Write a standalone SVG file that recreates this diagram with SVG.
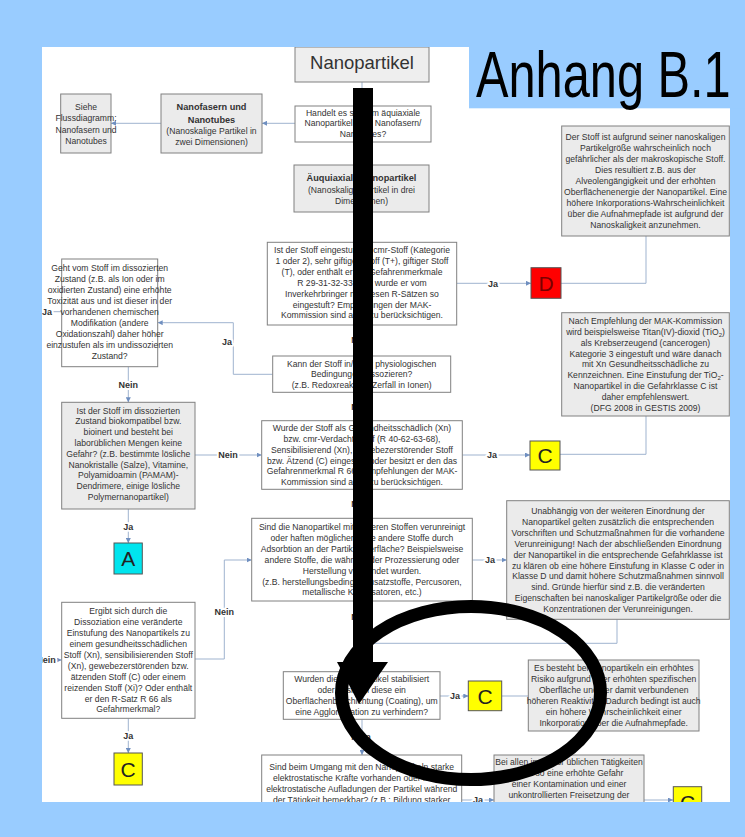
<svg xmlns="http://www.w3.org/2000/svg" width="745" height="837" viewBox="0 0 745 837">
<defs>
<style>
.t{font-family:"Liberation Sans",Arial,sans-serif;font-size:8.6px;fill:#333;text-anchor:middle}
.b{font-weight:bold;font-size:9.2px}
.box{fill:#fff;stroke:#808080;stroke-width:1}
.gbox{fill:#ebebeb;stroke:#808080;stroke-width:1}
.ln{fill:none;stroke:#9fb3cf;stroke-width:1}
.arr{marker-end:url(#ah)}
.lbl{font-family:"Liberation Sans",Arial,sans-serif;font-size:9px;font-weight:bold;fill:#333;text-anchor:middle;paint-order:stroke;stroke:#fff;stroke-width:4px;stroke-linejoin:round}
.big{font-family:"Liberation Sans",Arial,sans-serif;font-size:21px;text-anchor:middle;fill:#222}
</style>
<marker id="ah" viewBox="0 0 6 6" refX="6" refY="3" markerWidth="5" markerHeight="5" markerUnits="userSpaceOnUse" orient="auto">
<path d="M0,0 L6,3 L0,6 z" fill="#6f8fc0"/>
</marker>
<clipPath id="panel"><rect x="42" y="47" width="688" height="755"/></clipPath>
</defs>
<rect x="0" y="0" width="745" height="837" fill="#99ccff"/>
<rect x="42" y="47" width="688" height="755" fill="#fff"/>
<g clip-path="url(#panel)">
<g id="connectors">
<path class="ln arr" d="M362,82 V106"/>
<path class="ln arr" d="M295,123.3 H262"/>
<path class="ln arr" d="M161,123.3 H111"/>
<path class="ln arr" d="M362,142 V165"/>
<path class="ln arr" d="M362,212 V242"/>
<path class="ln arr" d="M456.7,283.3 H531"/>
<path class="ln" d="M646,236 V283.3 H561"/>
<path class="ln arr" d="M362,325 V356"/>
<path class="ln arr" d="M272.7,374.3 H233.3 V322.7 H157.7"/>
<path class="ln" d="M61.7,311.7 H30"/>
<path class="ln arr" d="M128.3,366.7 V402.3"/>
<path class="ln arr" d="M362,392.3 V420.7"/>
<path class="ln arr" d="M195,455 H261.7"/>
<path class="ln arr" d="M462.3,455 H530"/>
<path class="ln" d="M646,416 V454.3 H560"/>
<path class="ln arr" d="M128.3,509 V543"/>
<path class="ln arr" d="M362,489.3 V518.3"/>
<path class="ln arr" d="M472.3,560 H506.7"/>
<path class="ln arr" d="M195,659 H224.3 V560 H251.7"/>
<path class="ln arr" d="M30,660 H61.7"/>
<path class="ln arr" d="M362,601 V671.7"/>
<path class="ln" d="M617,619.3 V643.3 H362"/>
<path class="ln arr" d="M128.3,718.3 V753"/>
<path class="ln arr" d="M440,696 H468.3"/>
<path class="ln" d="M501.7,696 H528.3"/>
<path class="ln arr" d="M362,719.3 V755"/>
<path class="ln arr" d="M461.7,800 H494"/>
<path class="ln arr" d="M644,800 H673"/>
<text class="lbl" x="362" y="156">Ja</text>
<text class="lbl" x="493" y="286.5">Ja</text>
<text class="lbl" x="361" y="343">Nein</text>
<text class="lbl" x="227" y="345">Ja</text>
<text class="lbl" x="47" y="315">Ja</text>
<text class="lbl" x="128.3" y="387.5">Nein</text>
<text class="lbl" x="361" y="410">Nein</text>
<text class="lbl" x="228" y="458.2">Nein</text>
<text class="lbl" x="492" y="458.2">Ja</text>
<text class="lbl" x="128.3" y="530">Ja</text>
<text class="lbl" x="361" y="506.5">Nein</text>
<text class="lbl" x="490" y="563.2">Ja</text>
<text class="lbl" x="224.3" y="615">Nein</text>
<text class="lbl" x="46" y="663.2">Nein</text>
<text class="lbl" x="361" y="620">Nein</text>
<text class="lbl" x="128.3" y="739">Ja</text>
<text class="lbl" x="455" y="699.2">Ja</text>
<text class="lbl" x="361" y="740">Nein</text>
<text class="lbl" x="478" y="803.2">Ja</text>
</g>
<g id="n-nanopartikel">
<rect x="295" y="47" width="134" height="35" fill="#eeeeee" stroke="#808080"/>
<text x="362" y="69" style="font-family:'Liberation Sans',Arial,sans-serif;font-size:18.5px;fill:#333;text-anchor:middle">Nanopartikel</text>
</g>
<g id="n-siehe">
<rect class="gbox" x="60.7" y="94" width="50.3" height="59"/>
<text class="t" x="86" y="110">Siehe</text>
<text class="t" x="86" y="121.3">Flussdiagramm:</text>
<text class="t" x="86" y="132.6">Nanofasern und</text>
<text class="t" x="86" y="143.9">Nanotubes</text>
</g>
<g id="n-nanofasern">
<rect class="gbox" x="161" y="94" width="101" height="59"/>
<text class="t b" x="211.5" y="110">Nanofasern und</text>
<text class="t b" x="211.5" y="122.5">Nanotubes</text>
<text class="t" x="211.5" y="133.5">(Nanoskalige Partikel in</text>
<text class="t" x="211.5" y="144.8">zwei Dimensionen)</text>
</g>
<g id="n-handelt">
<rect class="box" x="295" y="106" width="136" height="36"/>
<text class="t" x="363" y="115.5">Handelt es sich um äquiaxiale</text>
<text class="t" x="363" y="126.4">Nanopartikel oder Nanofasern/</text>
<text class="t" x="363" y="137.3">Nanotubes?</text>
</g>
<g id="n-aequiaxiale">
<rect class="gbox" x="294" y="165" width="135" height="47"/>
<text class="t b" x="361.5" y="180.8">Äuquiaxiale Nanopartikel</text>
<text class="t" x="361.5" y="193">(Nanoskalige Partikel in drei</text>
<text class="t" x="361.5" y="203.9">Dimensionen)</text>
</g>
<g id="n-cmr">
<rect class="box" x="267.3" y="242.3" width="189.4" height="82.7"/>
<text class="t" x="362" y="253">Ist der Stoff eingestuft als cmr-Stoff (Kategorie</text>
<text class="t" x="362" y="263.9">1 oder 2),  sehr giftiger Stoff (T+), giftiger Stoff</text>
<text class="t" x="362" y="274.8">(T), oder enthält er die Gefahrenmerkmale</text>
<text class="t" x="362" y="285.7">R 29-31-32-33 oder wurde er vom</text>
<text class="t" x="362" y="296.6">Inverkehrbringer mit diesen R-Sätzen so</text>
<text class="t" x="362" y="307.5">eingestuft? Empfehlungen der MAK-</text>
<text class="t" x="362" y="318.4">Kommission sind auch zu berücksichtigen.</text>
</g>
<g id="n-d">
<rect x="531" y="267.7" width="30" height="30.6" fill="#ff0000" stroke="#555"/>
<text class="big" x="546" y="290.8" style="fill:#7a0000">D</text>
</g>
<g id="n-derstoff">
<rect class="gbox" x="561.7" y="126" width="167.6" height="110"/>
<text class="t" x="645.5" y="140.4">Der Stoff ist aufgrund seiner nanoskaligen</text>
<text class="t" x="645.5" y="151.3">Partikelgröße wahrscheinlich noch</text>
<text class="t" x="645.5" y="162.2">gefährlicher als der makroskopische Stoff.</text>
<text class="t" x="645.5" y="173.1">Dies resultiert z.B. aus der</text>
<text class="t" x="645.5" y="184">Alveolengängigkeit und der erhöhten</text>
<text class="t" x="645.5" y="194.9">Oberflächenenergie der Nanopartikel. Eine</text>
<text class="t" x="645.5" y="205.8">höhere Inkorporations-Wahrscheinlichkeit</text>
<text class="t" x="645.5" y="216.7">über die Aufnahmepfade ist aufgrund der</text>
<text class="t" x="645.5" y="227.6">Nanoskaligkeit anzunehmen.</text>
</g>
<g id="n-geht">
<rect class="box" x="61.7" y="259" width="96" height="107.7"/>
<text class="t" x="109.7" y="271.3">Geht vom Stoff im dissozierten</text>
<text class="t" x="109.7" y="282.2">Zustand (z.B. als Ion oder im</text>
<text class="t" x="109.7" y="293.1">oxidierten Zustand) eine erhöhte</text>
<text class="t" x="109.7" y="304">Toxizität aus und ist dieser in der</text>
<text class="t" x="109.7" y="314.9">vorhandenen chemischen</text>
<text class="t" x="109.7" y="325.8">Modifikation (andere</text>
<text class="t" x="109.7" y="336.7">Oxidationszahl) daher höher</text>
<text class="t" x="109.7" y="347.6">einzustufen als im undissozierten</text>
<text class="t" x="109.7" y="358.5">Zustand?</text>
</g>
<g id="n-kann">
<rect class="box" x="272.7" y="356" width="178" height="36.3"/>
<text class="t" x="361.7" y="366.5">Kann der Stoff in/unter physiologischen</text>
<text class="t" x="361.7" y="377">Bedingungen dissozieren?</text>
<text class="t" x="361.7" y="387.5">(z.B. Redoxreaktion, Zerfall in Ionen)</text>
</g>
<g id="n-nach">
<rect class="gbox" x="561.7" y="312.7" width="167.6" height="103.3"/>
<text class="t" x="645.5" y="323.8">Nach Empfehlung der MAK-Kommission</text>
<text class="t" x="645.5" y="334.7">wird beispielsweise Titan(IV)-dioxid (TiO<tspan dy="2" font-size="6">2</tspan><tspan dy="-2">)</tspan></text>
<text class="t" x="645.5" y="345.6">als Krebserzeugend (cancerogen)</text>
<text class="t" x="645.5" y="356.5">Kategorie 3 eingestuft und wäre danach</text>
<text class="t" x="645.5" y="367.4">mit Xn Gesundheitsschädliche zu</text>
<text class="t" x="645.5" y="378.3">Kennzeichnen. Eine Einstufung der TiO<tspan dy="2" font-size="6">2</tspan><tspan dy="-2">-</tspan></text>
<text class="t" x="645.5" y="389.2">Nanopartikel in die Gefahrklasse C ist</text>
<text class="t" x="645.5" y="400.1">daher empfehlenswert.</text>
<text class="t" x="645.5" y="411">(DFG 2008 in GESTIS 2009)</text>
</g>
<g id="n-biokomp">
<rect class="gbox" x="61.7" y="402.3" width="133.3" height="106.7"/>
<text class="t" x="128.3" y="413.5">Ist der Stoff im dissozierten</text>
<text class="t" x="128.3" y="424.3">Zustand biokompatibel bzw.</text>
<text class="t" x="128.3" y="435.1">bioinert und besteht bei</text>
<text class="t" x="128.3" y="445.9">laborüblichen Mengen keine</text>
<text class="t" x="128.3" y="456.7">Gefahr? (z.B. bestimmte lösliche</text>
<text class="t" x="128.3" y="467.5">Nanokristalle (Salze), Vitamine,</text>
<text class="t" x="128.3" y="478.3">Polyamidoamin (PAMAM)-</text>
<text class="t" x="128.3" y="489.1">Dendrimere, einige lösliche</text>
<text class="t" x="128.3" y="499.9">Polymernanopartikel)</text>
</g>
<g id="n-wurde">
<rect class="box" x="261.7" y="420.7" width="200.6" height="68.6"/>
<text class="t" x="362" y="430.8">Wurde der Stoff als Gesundheitsschädlich (Xn)</text>
<text class="t" x="362" y="441.7">bzw. cmr-Verdachtsstoff (R 40-62-63-68),</text>
<text class="t" x="362" y="452.6">Sensibilisierend (Xn), gewebezerstörender Stoff</text>
<text class="t" x="362" y="463.5">bzw. Ätzend (C) eingestuft oder besitzt er den das</text>
<text class="t" x="362" y="474.4">Gefahrenmerkmal R 66? Empfehlungen der MAK-</text>
<text class="t" x="362" y="485.3">Kommission sind auch zu berücksichtigen.</text>
</g>
<g id="n-c1">
<rect x="530" y="441" width="30" height="29" fill="#ffff00" stroke="#555"/>
<text class="big" x="545" y="463">C</text>
</g>
<g id="n-a">
<rect x="114" y="543" width="28.3" height="31" fill="#00e5ee" stroke="#555"/>
<text class="big" x="128.2" y="566">A</text>
</g>
<g id="n-sind">
<rect class="box" x="251.7" y="518.3" width="220.6" height="82.7"/>
<text class="t" x="362" y="530">Sind die Nanopartikel mit anderen Stoffen verunreinigt</text>
<text class="t" x="362" y="540.9">oder haften möglicherweise andere Stoffe durch</text>
<text class="t" x="362" y="551.8">Adsorbtion an der Partikeloberfläche? Beispielsweise</text>
<text class="t" x="362" y="562.7">andere Stoffe, die während der Prozessierung oder</text>
<text class="t" x="362" y="573.6">Herstellung verwendet wurden.</text>
<text class="t" x="362" y="584.5">(z.B. herstellungsbedingte Zusatzstoffe, Percusoren,</text>
<text class="t" x="362" y="595.4">metallische Katalysatoren, etc.)</text>
</g>
<g id="n-unab">
<rect class="gbox" x="506.7" y="500.7" width="222.6" height="118.6"/>
<text class="t" x="618" y="514">Unabhängig von der weiteren Einordnung der</text>
<text class="t" x="618" y="524.9">Nanopartikel gelten zusätzlich die entsprechenden</text>
<text class="t" x="618" y="535.8">Vorschriften und Schutzmaßnahmen für die vorhandene</text>
<text class="t" x="618" y="546.7">Verunreinigung! Nach der abschließenden Einordnung</text>
<text class="t" x="618" y="557.6">der Nanopartikel in die entsprechende Gefahrklasse ist</text>
<text class="t" x="618" y="568.5">zu klären ob eine höhere Einstufung in Klasse C oder in</text>
<text class="t" x="618" y="579.4">Klasse D und damit höhere Schutzmaßnahmen sinnvoll</text>
<text class="t" x="618" y="590.3">sind. Gründe hierfür sind z.B. die veränderten</text>
<text class="t" x="618" y="601.2">Eigenschaften bei nanoskaliger Partikelgröße oder die</text>
<text class="t" x="618" y="612.1">Konzentrationen der Verunreinigungen.</text>
</g>
<g id="n-ergibt">
<rect class="box" x="61.7" y="602.3" width="133.3" height="116"/>
<text class="t" x="128.3" y="614.3">Ergibt sich durch die</text>
<text class="t" x="128.3" y="625.2">Dissoziation eine veränderte</text>
<text class="t" x="128.3" y="636.1">Einstufung des Nanopartikels zu</text>
<text class="t" x="128.3" y="647">einem gesundheitsschädlichen</text>
<text class="t" x="128.3" y="657.9">Stoff (Xn), sensibilisierenden Stoff</text>
<text class="t" x="128.3" y="668.8">(Xn), gewebezerstörenden bzw.</text>
<text class="t" x="128.3" y="679.7">ätzenden Stoff (C) oder einem</text>
<text class="t" x="128.3" y="690.6">reizenden Stoff (Xi)? Oder enthält</text>
<text class="t" x="128.3" y="701.5">er den R-Satz R 66 als</text>
<text class="t" x="128.3" y="712.4">Gefahrmerkmal?</text>
</g>
<g id="n-c2">
<rect x="114" y="753" width="28.3" height="32" fill="#ffff00" stroke="#555"/>
<text class="big" x="128.2" y="776.5">C</text>
</g>
<g id="n-stab">
<rect class="box" x="283.3" y="671.7" width="156.7" height="47.6"/>
<text class="t" x="361.7" y="682.2">Wurden die Nanopartikel stabilisiert</text>
<text class="t" x="361.7" y="693.1">oder besitzen diese ein</text>
<text class="t" x="361.7" y="704">Oberflächenbeschichtung (Coating), um</text>
<text class="t" x="361.7" y="714.9">eine Agglomeration zu verhindern?</text>
</g>
<g id="n-c3">
<rect x="468.3" y="681" width="33.4" height="29.7" fill="#ffff00" stroke="#555"/>
<text class="big" x="485" y="703.5">C</text>
</g>
<g id="n-esbesteht">
<rect class="gbox" x="528.3" y="660" width="170.7" height="71"/>
<text class="t" x="613.7" y="671.3">Es besteht bei Nanopartikeln ein erhöhtes</text>
<text class="t" x="613.7" y="682.3">Risiko aufgrund ihrer erhöhten spezifischen</text>
<text class="t" x="613.7" y="693.3">Oberfläche und der damit verbundenen</text>
<text class="t" x="613.7" y="704.3">höheren Reaktivität. Dadurch bedingt ist auch</text>
<text class="t" x="613.7" y="715.3">ein höhere Wahrscheinlichkeit einer</text>
<text class="t" x="613.7" y="726.3">Inkorporation über die Aufnahmepfade.</text>
</g>
<g id="n-beim">
<rect class="box" x="261.7" y="755" width="200" height="80"/>
<text class="t" x="361.7" y="770.3">Sind beim Umgang mit den Nanopartikeln starke</text>
<text class="t" x="361.7" y="781.3">elektrostatische Kräfte vorhanden oder ist eine</text>
<text class="t" x="361.7" y="792.3">elektrostatische Aufladungen der Partikel während</text>
<text class="t" x="361.7" y="803.3">der Tätigkeit bemerkbar? (z.B.: Bildung starker</text>
</g>
<g id="n-beialle">
<rect class="gbox" x="494" y="755" width="150" height="80"/>
<text class="t" x="569" y="764.7">Bei allen im Labor üblichen Tätigkeiten</text>
<text class="t" x="569" y="775.7">kann so eine erhöhte Gefahr</text>
<text class="t" x="569" y="786.7">einer Kontamination und einer</text>
<text class="t" x="569" y="797.7">unkontrollierten Freisetzung der</text>
</g>
<g id="n-c4">
<rect x="673.3" y="786.7" width="28.4" height="34" fill="#ffff00" stroke="#555"/>
<text class="big" x="687.5" y="810">C</text>
</g>
</g>
<g id="anhang">
<rect x="469" y="40" width="276" height="68.3" fill="#99ccff"/>
<text transform="translate(476,97) scale(0.75,1)" x="0" y="0" style="font-family:'Liberation Sans',Arial,sans-serif;font-size:65px;fill:#000">Anhang B.1</text>
</g>
<g id="overlay">
<rect x="353" y="88" width="20" height="576" fill="#000"/>
<polygon points="337,662 388,662 359,704" fill="#000"/>
<ellipse cx="471" cy="693" rx="129.5" ry="86.5" fill="none" stroke="#000" stroke-width="13"/>
</g>
</svg>
